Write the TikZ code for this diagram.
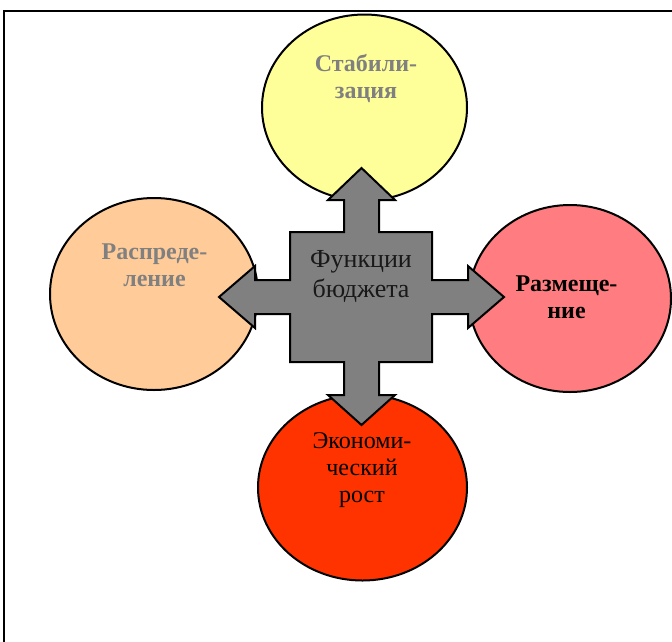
\documentclass[tikz,border=0pt]{standalone}
\usepackage{fontspec}
\setmainfont{Liberation Serif}
\usetikzlibrary{shapes.geometric}

\definecolor{stabfill}{HTML}{FFFF99}
\definecolor{distfill}{HTML}{FFCC99}
\definecolor{allocfill}{HTML}{FF7C80}
\definecolor{growfill}{HTML}{FF3300}
\definecolor{crossfill}{HTML}{808080}
\definecolor{labelgray}{HTML}{808080}

\tikzset{
  funcellipse/.style={ellipse, draw=black, line width=2pt, inner sep=0pt},
  % anchor=base sits on the baseline of the last line
  funclabel/.style={align=center, anchor=base, inner sep=0pt,
    font=\fontsize{24}{27}\selectfont},
  crossshape/.style={draw=black, line width=2pt, fill=crossfill, line join=miter},
  frameline/.style={draw=black, line width=2.5pt}
}

\begin{document}
\begin{tikzpicture}[x=1pt, y=-1pt]
  \useasboundingbox (0,0) rectangle (672,641);
  \clip (0,0) rectangle (672,641);

  % outer frame, open to the right and bottom
  \draw[frameline] (4,11) rectangle (720,700);

  % the four functions
  \node[funcellipse, fill=stabfill,  minimum width=205pt, minimum height=186pt] (stab)  at (364.5,107.5) {};
  \node[funcellipse, fill=distfill,  minimum width=208pt, minimum height=192pt] (dist)  at (154,294) {};
  \node[funcellipse, fill=allocfill, minimum width=202pt, minimum height=187pt] (alloc) at (570,298.5) {};
  \node[funcellipse, fill=growfill,  minimum width=209pt, minimum height=186pt] (grow)  at (362.5,487.5) {};

  % four-way arrow in the middle
  \draw[crossshape]
    (344,200) -- (328,200) -- (361.5,168) -- (395,200) -- (379,200) -- (379,232)
    -- (432,232) -- (432,280) -- (468,280) -- (468,266) -- (504,297) -- (468,328)
    -- (468,314) -- (432,314) -- (432,362) -- (379,362) -- (379,395) -- (395,395)
    -- (361.5,425) -- (328,395) -- (344,395) -- (344,362) -- (290,362) -- (290,314)
    -- (255,314) -- (255,328) -- (219,297) -- (255,266) -- (255,280) -- (290,280)
    -- (290,232) -- (344,232) -- cycle;

  \node[align=center, anchor=base, inner sep=0pt, text=black!90,
        font=\fontsize{26}{30}\selectfont] (title) at (361,297) {Функции\\бюджета};

  % labels
  \node[funclabel, font=\fontsize{24}{27}\selectfont\bfseries, text=labelgray] (stabtext) at (366,98) {Стабили-\\зация};
  \node[funclabel, font=\fontsize{24}{27}\selectfont\bfseries, text=labelgray] (disttext) at (154.5,286) {Распреде-\\ление};
  \node[funclabel, font=\fontsize{24}{27}\selectfont\bfseries, text=black] (alloctext) at (566.5,318) {Размеще-\\ние};
  \node[funclabel, text=black] (growtext) at (362,502) {Экономи-\\ческий\\рост};
\end{tikzpicture}
\end{document}
